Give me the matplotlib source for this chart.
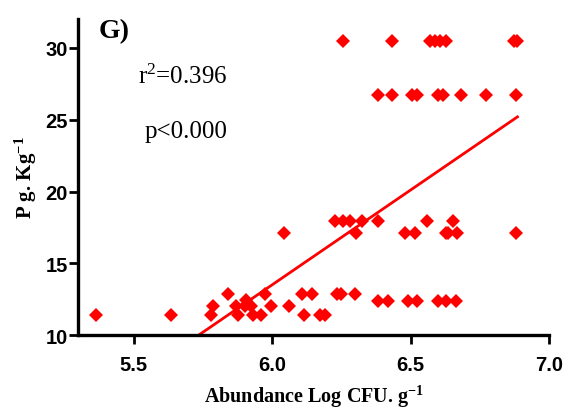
import numpy as np
import matplotlib
matplotlib.use("Agg")
import matplotlib.pyplot as plt

plt.rcParams['mathtext.fontset'] = 'custom'
plt.rcParams['mathtext.rm'] = 'Liberation Serif'
plt.rcParams['mathtext.it'] = 'Liberation Serif:italic'
plt.rcParams['mathtext.bf'] = 'Liberation Serif:bold'

# Data (abundance Log CFU/g vs P g/Kg)
abundance = [
    5.365, 5.636, 5.781, 5.877, 5.931, 5.959, 6.116, 6.175, 6.190,
    5.787, 5.871, 5.901, 5.925, 5.998, 6.062,
    5.905,
    5.840, 5.976, 6.110, 6.146, 6.235, 6.250, 6.300,
    6.384, 6.420, 6.492, 6.522, 6.601, 6.628, 6.664,
    6.044, 6.302, 6.480, 6.516, 6.628, 6.637, 6.667, 6.880,
    6.227, 6.255, 6.281, 6.324, 6.384, 6.558, 6.655,
    6.384, 6.434, 6.506, 6.524, 6.601, 6.619, 6.683, 6.773, 6.880,
    6.257, 6.434, 6.571, 6.589, 6.607, 6.627, 6.875, 6.886,
]
p_content = (
    [11.4] * 9 +
    [12.0] * 6 +
    [12.45] +
    [12.9] * 7 +
    [12.4] * 7 +
    [17.1] * 8 +
    [17.95] * 7 +
    [26.7] * 9 +
    [30.45] * 8
)

fit_slope = 13.2
fit_intercept = -65.7
r2_text = r'r$^2$=0.396'
p_text = 'p<0.000'
panel_label = 'G)'
x_ticks = [5.5, 6.0, 6.5, 7.0]
y_ticks = [10, 15, 20, 25, 30]

fig = plt.figure(figsize=(5.66, 4.10), dpi=100)
ax = fig.add_axes([0.138, 0.180, 0.832, 0.771])

red = '#FF0000'
ax.plot(abundance, p_content, linestyle='none', marker='D', markersize=7.0,
        markeredgewidth=0, color=red, zorder=3, clip_on=False)

xs = np.array([min(abundance), max(abundance)])
ax.plot(xs, fit_slope * xs + fit_intercept, color=red, linewidth=2.0, zorder=2)

ax.set_xlim(5.30, 7.0)
ax.set_ylim(10, 32)
ax.set_xticks(x_ticks)
ax.set_xticklabels([f'{t:.1f}' for t in x_ticks])
ax.set_yticks(y_ticks)
ax.set_yticklabels([str(t) for t in y_ticks])

for s in ['top', 'right']:
    ax.spines[s].set_visible(False)
for s in ['left', 'bottom']:
    ax.spines[s].set_linewidth(2.4)
    ax.spines[s].set_color('black')

ax.tick_params(direction='out', length=6.5, width=2.0, colors='black')
ax.tick_params(axis='y', pad=1)
ax.tick_params(axis='x', pad=8)
for lab in ax.get_xticklabels() + ax.get_yticklabels():
    lab.set_fontfamily('Liberation Sans')
    lab.set_fontweight('bold')
    lab.set_fontsize(14.5)

ax.set_xlabel(r'Abundance Log CFU. g$^{\mathbf{-1}}$', fontfamily='Liberation Serif',
              fontweight='bold', fontsize=14.5)
ax.xaxis.set_label_coords(0.5, -0.15)
ax.set_ylabel(r'P g. Kg$^{\mathbf{-1}}$', fontfamily='Liberation Serif',
              fontweight='bold', fontsize=15)
ax.yaxis.set_label_coords(-0.082, 0.5)

ax.text(0.076, 0.962, panel_label, transform=ax.transAxes, ha='center', va='center',
        fontfamily='Liberation Serif', fontweight='bold', fontsize=20)
ax.text(0.223, 0.82, r2_text, transform=ax.transAxes, ha='center', va='center',
        fontfamily='Liberation Serif', fontsize=18)
ax.text(0.230, 0.645, p_text, transform=ax.transAxes, ha='center', va='center',
        fontfamily='Liberation Serif', fontsize=18)

fig.savefig('out.png', dpi=100)
